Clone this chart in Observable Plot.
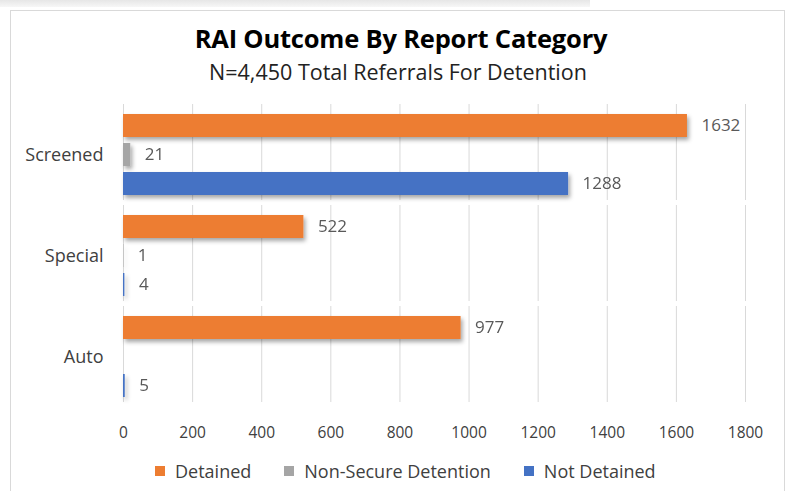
<!DOCTYPE html>
<html>
<head>
<meta charset="utf-8">
<script src="https://cdn.jsdelivr.net/npm/d3@7"></script>
<script src="https://cdn.jsdelivr.net/npm/@observablehq/plot@0.6"></script>
<style>
  html, body { margin: 0; padding: 0; background: #fff; }
  #wrap { position: relative; width: 787px; height: 491px; overflow: hidden; font-family: "Open Sans", sans-serif; }
  #topshade { position: absolute; left: 0; top: 0; width: 590px; height: 7px; background: linear-gradient(#e6e6e6, #f7f7f7); }
  #frame { position: absolute; left: 10px; top: 10px; width: 775px; height: 490px; border: 1px solid #d9d9d9; box-sizing: border-box; }
  #title { position: absolute; left: 0; width: 802px; top: 25px; line-height: 26px; text-align: center; font-weight: bold; font-size: 25.5px; color: #000; letter-spacing: -0.2px; }
  #subtitle { position: absolute; left: 0; width: 796px; top: 61px; line-height: 22px; text-align: center; font-size: 21.5px; color: #222; }
  #chart { position: absolute; left: 0; top: 0; }
  #legend { position: absolute; top: 461px; left: 155px; display: flex; font-size: 18px; line-height: 20px; color: #404040; }
  .item { display: flex; align-items: center; margin-right: 33px; }
  .sw { width: 10px; height: 10px; margin-right: 10px; }
</style>
</head>
<body>
<div id="wrap">
  <div id="topshade"></div>
  <div id="frame"></div>
  <div id="title"></div>
  <div id="subtitle"></div>
  <div id="chart"></div>
  <div id="legend"></div>
</div>
<script>
const titleText = "RAI Outcome By Report Category";
const subtitleText = "N=4,450 Total Referrals For Detention";
const categories = ["Screened", "Special", "Auto"];
const seriesNames = ["Detained", "Non-Secure Detention", "Not Detained"];
const seriesColors = ["#ED7D31", "#A5A5A5", "#4472C4"];
const detained = [1632, 522, 977];
const nonSecure = [21, 1, null];
const notDetained = [1288, 4, 5];
const xTicks = [0, 200, 400, 600, 800, 1000, 1200, 1400, 1600, 1800];

document.getElementById("title").textContent = titleText;
document.getElementById("subtitle").textContent = subtitleText;

const seriesValues = [detained, nonSecure, notDetained];
const rows = [];
categories.forEach((c, i) => {
  seriesNames.forEach((s, j) => {
    const v = seriesValues[j][i];
    if (v != null) rows.push({category: c, series: s, value: v});
  });
});

const plot = Plot.plot({
  width: 787,
  height: 450,
  marginLeft: 123,
  marginRight: 42,
  marginTop: 108,
  marginBottom: 46,
  style: {fontFamily: "Open Sans, sans-serif", fontSize: "15.5px", color: "#404040", background: "transparent"},
  x: {domain: [0, 1800], ticks: xTicks, tickSize: 0, tickPadding: 28, label: null, tickFormat: d => String(d)},
  y: {domain: seriesNames, axis: null, paddingInner: 0.2, paddingOuter: 0},
  fy: {domain: categories, paddingInner: 0.176, paddingOuter: 0.04, label: null, tickSize: 0, tickPadding: 20},
  color: {domain: seriesNames, range: seriesColors},
  marks: [
    Plot.ruleX(xTicks, {stroke: "#d9d9d9", strokeWidth: 1, insetTop: -9, insetBottom: -4}),
    Plot.barX(rows, {fy: "category", y: "series", x: "value", fill: "series"}),
    Plot.text(rows, {fy: "category", y: "series", x: "value", text: d => String(d.value), textAnchor: "start", dx: 14, fill: "#595959", fontSize: 17})
  ]
});
document.getElementById("chart").appendChild(plot);

// drop shadow on bars
const svg = d3.select(plot);
const defs = svg.insert("defs", ":first-child");
const f = defs.append("filter").attr("id", "sh").attr("x", "-10%").attr("y", "-30%").attr("width", "130%").attr("height", "180%");
f.append("feDropShadow").attr("dx", 2).attr("dy", 3).attr("stdDeviation", 2).attr("flood-color", "#000").attr("flood-opacity", 0.35);
svg.selectAll('g[aria-label="bar"]').attr("filter", "url(#sh)");
svg.selectAll('g[aria-label="fy-axis tick label"] text, g[aria-label="fy-axis"] text').attr("fill", "#404040").style("font-size", "18px");

const legend = d3.select("#legend");
seriesNames.forEach((s, i) => {
  const it = legend.append("div").attr("class", "item");
  it.append("div").attr("class", "sw").style("background", seriesColors[i]);
  it.append("span").text(s);
});
</script>
</body>
</html>
